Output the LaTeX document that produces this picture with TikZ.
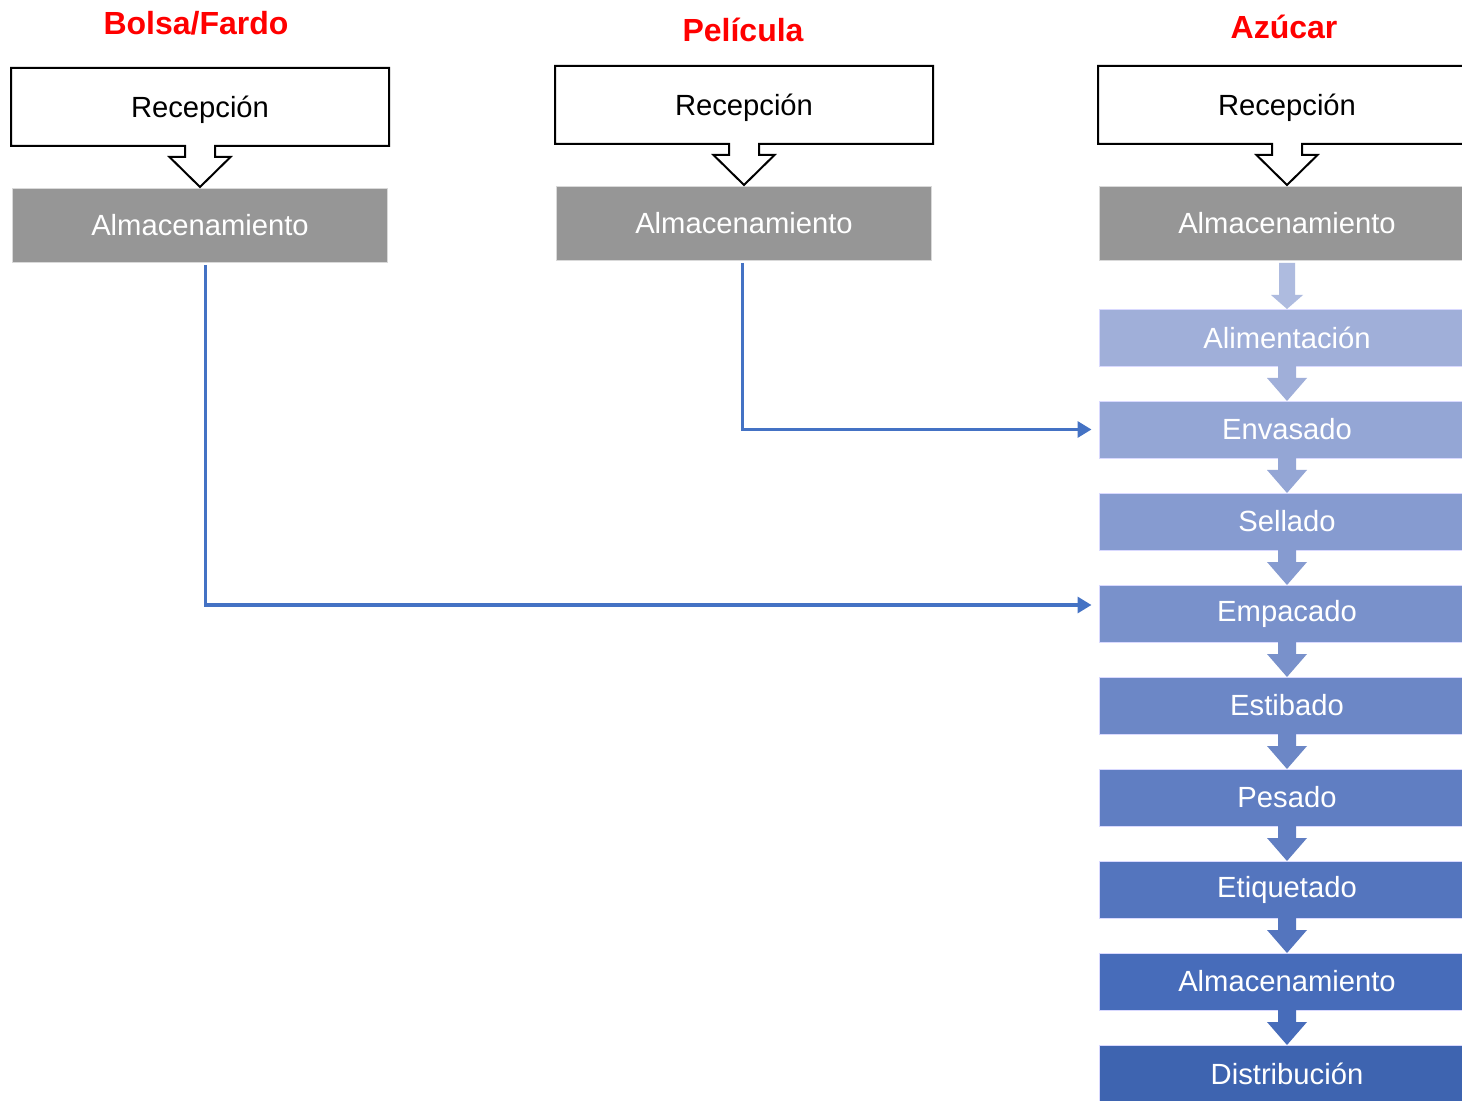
\documentclass[tikz,border=0pt]{standalone}
\usepackage{fontspec}
\setmainfont{Liberation Sans}
\usetikzlibrary{positioning,arrows.meta,calc}
\definecolor{almFill}{RGB}{150,150,150}
\definecolor{feedLine}{RGB}{68,114,196}
\definecolor{ttlRed}{RGB}{255,0,0}
\definecolor{st1}{RGB}{160,175,217}
\definecolor{st2}{RGB}{148,166,213}
\definecolor{st3}{RGB}{134,155,208}
\definecolor{st4}{RGB}{121,145,203}
\definecolor{st5}{RGB}{108,135,198}
\definecolor{st6}{RGB}{96,126,194}
\definecolor{st7}{RGB}{84,117,190}
\definecolor{st8}{RGB}{71,108,186}
\definecolor{st9}{RGB}{62,100,176}
\newcommand{\fsz}{\fontsize{14.6}{17}\selectfont}
\newcommand{\ttlsz}{\fontsize{16}{19}\selectfont}
% outline of a reception box with its down arrow
\newcommand{\recOutline}[1]{%
  \draw[recline] (#1.north west) -- (#1.north east) -- (#1.south east)
    -- ($(#1.south)+(15,0)$) -- ++(0,11) -- ++(15.5,0) -- ++(-30.5,30)
    -- ++(-30.5,-30) -- ++(15.5,0) -- ++(0,-11) -- (#1.south west) -- cycle;}
% block arrow between two steps
\newcommand{\stepArrow}[3]{%
  \fill[#3] ($(#1.south)+(-9,0)$) -- ++(18,0) -- ++(0,12) -- ++(11,0)
    -- (#2.north) -- ($(#1.south)+(-20,12)$) -- ++(11,0) -- cycle;}
\tikzset{
  recep/.style={rectangle, minimum width=189pt, minimum height=39pt, outer sep=0pt,
                text height=10.5pt, text depth=0pt, font=\fsz},
  recline/.style={draw=black, line width=1pt, line join=miter},
  almac/.style={rectangle, fill=almFill, draw=white!85!black, line width=0.4pt,
                minimum width=187.5pt, minimum height=37pt, outer sep=0pt, text=white, font=\fsz},
  paso/.style={rectangle, draw=white!85!blue, line width=0.4pt, minimum width=187.5pt,
               minimum height=28.5pt, outer sep=0pt, text=white, font=\fsz},
  ttl/.style={text=ttlRed, font=\ttlsz\bfseries},
  feed/.style={draw=feedLine, line width=1.6pt, -{Triangle[length=7pt,width=8pt]}, shorten >=4pt},
}

\begin{document}
\begin{tikzpicture}[x=0.5pt, y=-0.5pt]
  \useasboundingbox (0,0) rectangle (1462,1101);
  \clip (0,0) rectangle (1462,1101);
  \fill[white] (0,0) rectangle (1462,1101);
  % Bolsa/Fardo
  \node[ttl] (t1) at (196,23) {Bolsa/Fardo};
  \node[recep] (r1) at (200,107) {Recepción};
  \node[almac, below=21pt of r1] (a1) {Almacenamiento};
  % Película
  \node[ttl] (t2) at (743,30) {Película};
  \node[recep] (r2) at (744,105) {Recepción};
  \node[almac, below=21pt of r2] (a2) {Almacenamiento};
  % Azúcar
  \node[ttl] (t3) at (1284,27) {Azúcar};
  \node[recep] (r3) at (1287,105) {Recepción};
  \node[almac, below=21pt of r3] (a3) {Almacenamiento};
  \node[paso, fill=st1, below=24.5pt of a3] (s1) {Alimentación};
  \node[paso, fill=st2, below=17.5pt of s1] (s2) {Envasado};
  \node[paso, fill=st3, below=17.5pt of s2] (s3) {Sellado};
  \node[paso, fill=st4, below=17.5pt of s3] (s4) {Empacado};
  \node[paso, fill=st5, below=17.5pt of s4] (s5) {Estibado};
  \node[paso, fill=st6, below=17.5pt of s5] (s6) {Pesado};
  \node[paso, fill=st7, below=17.5pt of s6] (s7) {Etiquetado};
  \node[paso, fill=st8, below=17.5pt of s7] (s8) {Almacenamiento};
  \node[paso, fill=st9, below=17.5pt of s8] (s9) {Distribución};

  \recOutline{r1}
  \recOutline{r2}
  \recOutline{r3}

  \fill[st1!85!white] ($(a3.south)+(-8,3)$) -- ++(16,0) -- ++(0,32) -- ++(8,0)
    -- (s1.north) -- ($(a3.south)+(-16,35)$) -- ++(8,0) -- cycle;
  \stepArrow{s1}{s2}{st1}
  \stepArrow{s2}{s3}{st2}
  \stepArrow{s3}{s4}{st3}
  \stepArrow{s4}{s5}{st4}
  \stepArrow{s5}{s6}{st5}
  \stepArrow{s6}{s7}{st6}
  \stepArrow{s7}{s8}{st7}
  \stepArrow{s8}{s9}{st8}

  \draw[feed] ([xshift=2.75pt,yshift=-1.5pt]a1.south) |- ([yshift=4.25pt]s4.west);
  \draw[feed] ([xshift=-0.75pt,yshift=-1.5pt]a2.south) |- (s2.west);
\end{tikzpicture}
\end{document}
